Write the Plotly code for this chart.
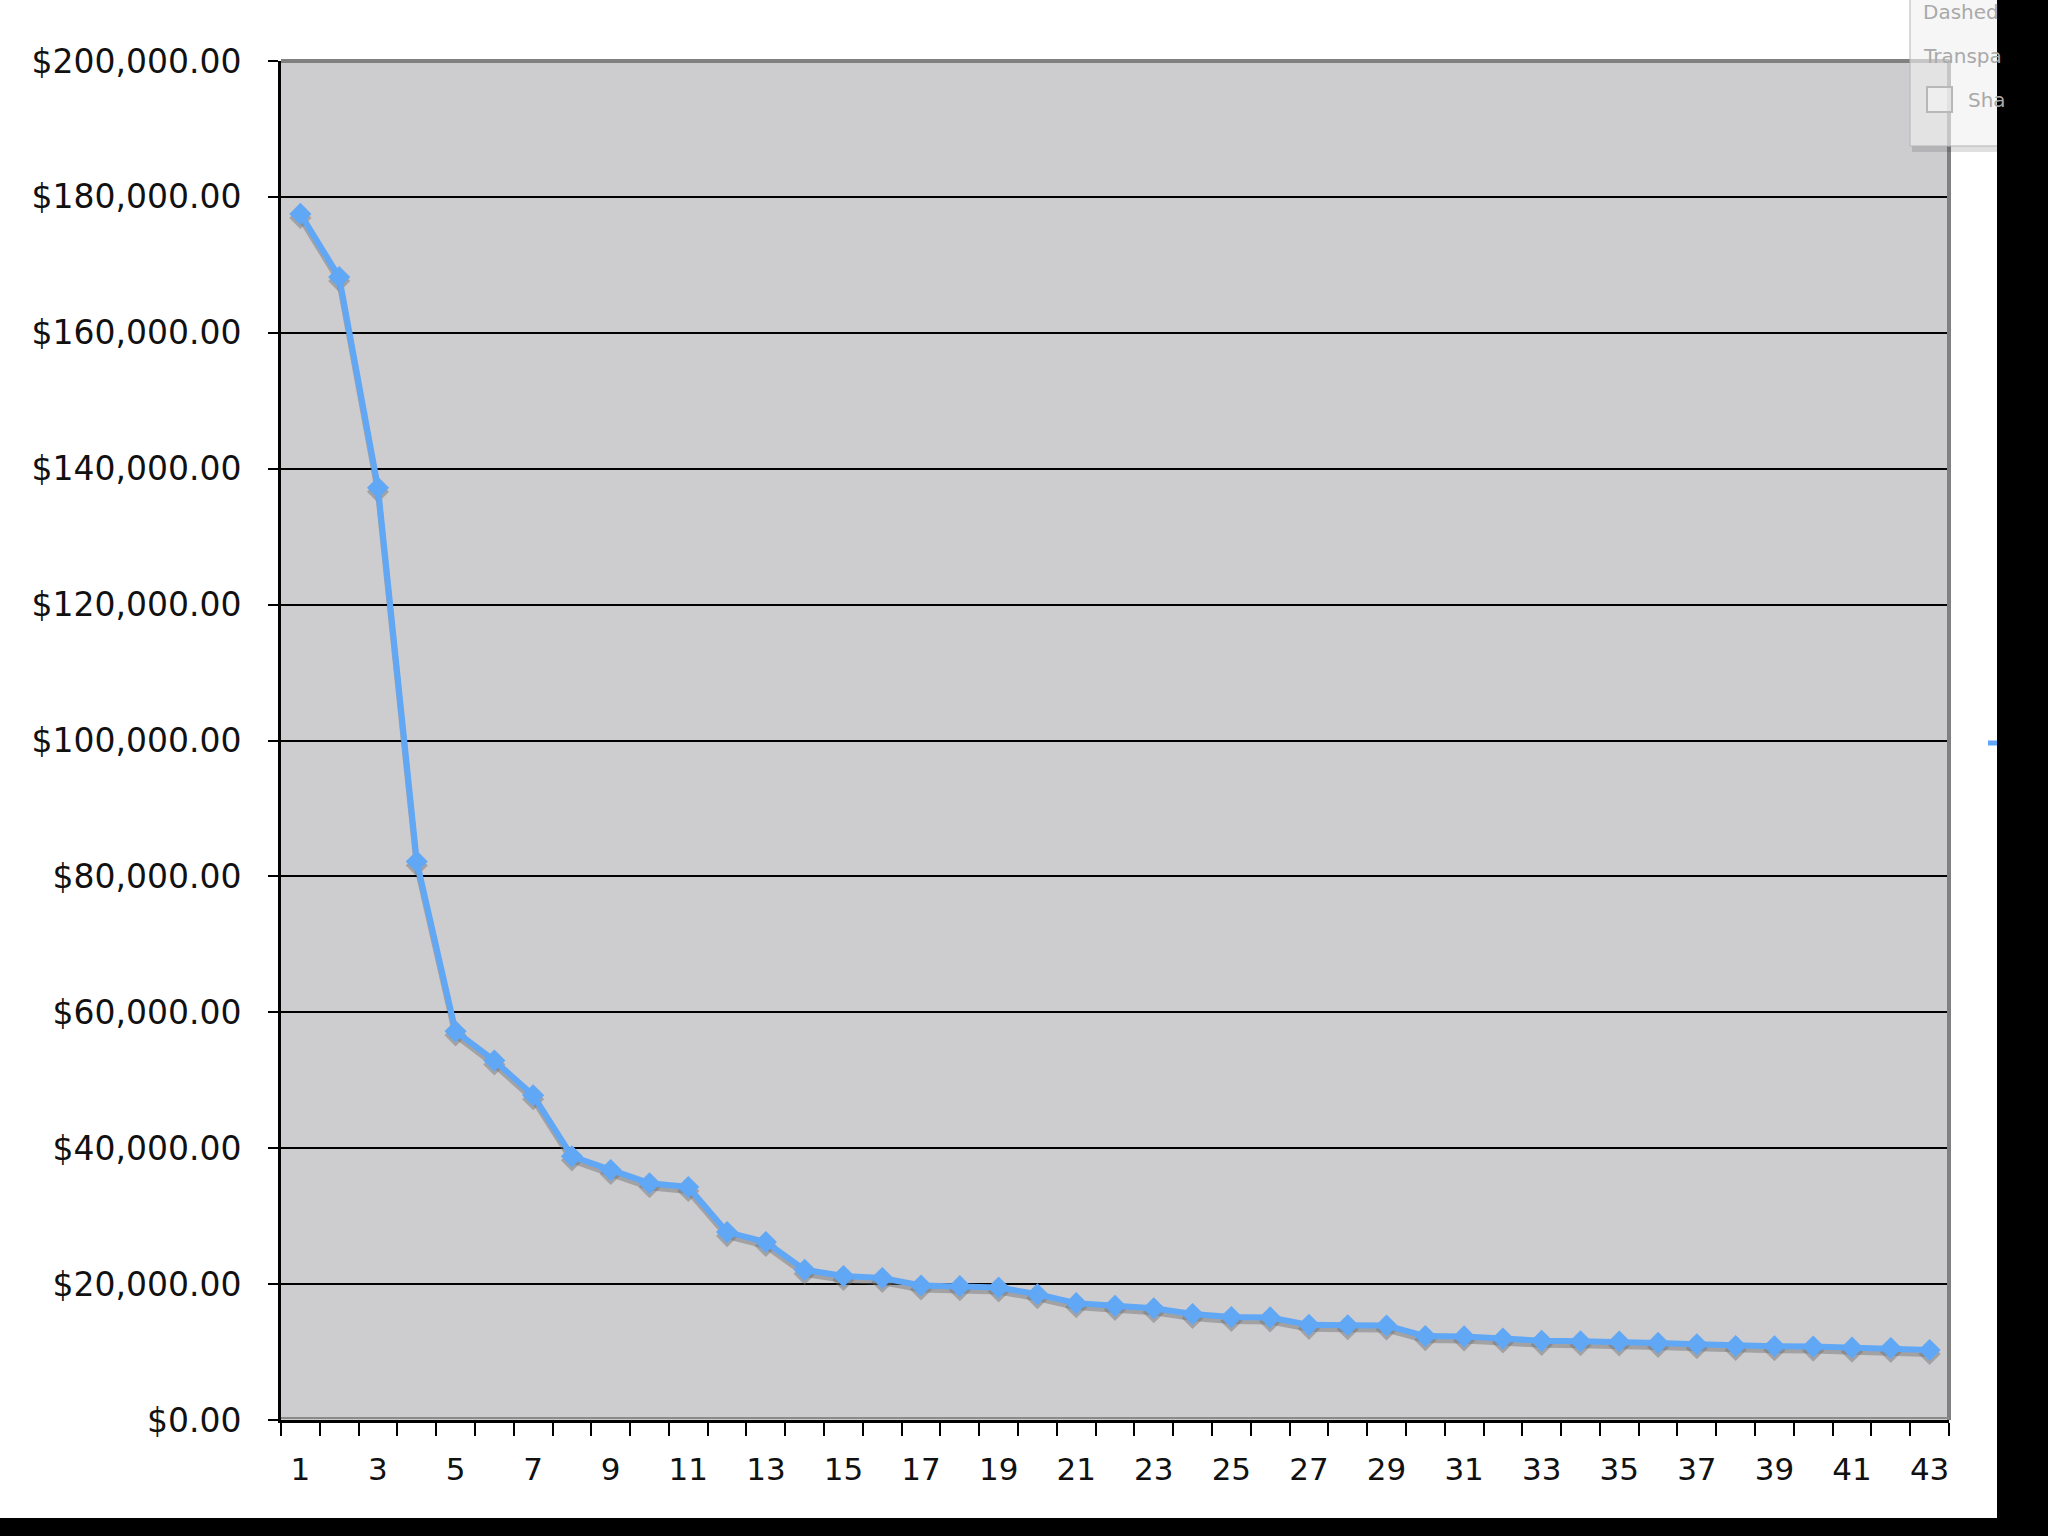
import plotly.graph_objects as go

# ---- data ----
categories = list(range(1, 44))
values = [177500, 168200, 137200, 82200, 57200, 52900, 47800, 38800, 36800, 34850,
          34300, 27650, 26200, 22100, 21200, 20900, 19800, 19700, 19500, 18500,
          17200, 16800, 16450, 15600, 15150, 15100, 14000, 13950, 13900, 12350,
          12300, 12000, 11650, 11600, 11550, 11350, 11150, 10900, 10850, 10800,
          10650, 10600, 10300]
y_tickvals = [0, 20000, 40000, 60000, 80000, 100000, 120000, 140000, 160000, 180000, 200000]
y_ticktext = ["$0.00", "$20,000.00", "$40,000.00", "$60,000.00", "$80,000.00",
              "$100,000.00", "$120,000.00", "$140,000.00", "$160,000.00",
              "$180,000.00", "$200,000.00"]
x_tickvals = list(range(1, 44, 2))
x_ticktext = [str(v) for v in x_tickvals]
panel_labels = ["Dashed", "Transpa", "Sha"]

# ---- geometry (pixels) ----
W, H = 2048, 1536
L, R, T, B = 281, 99, 61, 116
PW, PH = W - L - R, H - T - B


def px(x):
    return (x - L) / PW


def py(y):
    return (H - B - y) / PH


FONT = "DejaVu Sans"
LINE_BLUE = "#60a7f6"
SHADOW = "rgba(110,110,110,0.45)"
shadow_shift = 4 / PH * 200000

fig = go.Figure()
# invisible carrier trace for the main (visible) axes
fig.add_trace(go.Scatter(
    x=categories, y=values, xaxis="x", yaxis="y", mode="lines",
    line=dict(color="rgba(0,0,0,0)", width=0), hoverinfo="skip", showlegend=False))
# shadow
fig.add_trace(go.Scatter(
    x=categories, y=values, xaxis="x", yaxis="y2", mode="lines+markers",
    line=dict(color=SHADOW, width=6),
    marker=dict(symbol="diamond", size=17, color=SHADOW),
    hoverinfo="skip", showlegend=False))
# main series
fig.add_trace(go.Scatter(
    x=categories, y=values, xaxis="x", yaxis="y3", mode="lines+markers",
    line=dict(color=LINE_BLUE, width=6),
    marker=dict(symbol="diamond", size=17, color=LINE_BLUE),
    showlegend=False))

shapes = []
# gray top and right plot borders
shapes.append(dict(type="line", xref="paper", yref="paper", x0=0, x1=1, y0=1, y1=1,
                   line=dict(color="#808080", width=4), layer="above"))
shapes.append(dict(type="line", xref="paper", yref="paper", x0=1, x1=1, y0=0, y1=1,
                   line=dict(color="#808080", width=4), layer="above"))
# gray shadow just above the bottom axis
shapes.append(dict(type="line", xref="paper", yref="paper", x0=0, x1=1, y0=py(1418), y1=py(1418),
                   line=dict(color="#8a8a8a", width=2), layer="above"))
# floating panel (semi transparent) at top right
shapes.append(dict(type="rect", xref="paper", yref="paper", x0=px(1912), x1=px(2000),
                   y0=py(152), y1=py(146), fillcolor="rgba(0,0,0,0.12)", line=dict(width=0),
                   layer="above"))
shapes.append(dict(type="rect", xref="paper", yref="paper", x0=px(1910), x1=px(2000),
                   y0=py(146), y1=py(-5), fillcolor="rgba(240,240,240,0.62)",
                   line=dict(color="#b4b4b4", width=1), layer="above"))
# checkbox
shapes.append(dict(type="rect", xref="paper", yref="paper", x0=px(1927), x1=px(1952),
                   y0=py(112), y1=py(87), fillcolor="rgba(245,245,245,0.6)",
                   line=dict(color="#b8b8b8", width=2), layer="above"))
# legend fragment
shapes.append(dict(type="line", xref="paper", yref="paper", x0=px(1988), x1=px(1998),
                   y0=py(743), y1=py(743), line=dict(color=LINE_BLUE, width=5), layer="above"))
# black borders of the screenshot
shapes.append(dict(type="rect", xref="paper", yref="paper", x0=px(1997), x1=px(2100),
                   y0=py(1600), y1=py(-50), fillcolor="black", line=dict(width=0), layer="above"))
shapes.append(dict(type="rect", xref="paper", yref="paper", x0=px(-50), x1=px(2100),
                   y0=py(1600), y1=py(1518), fillcolor="black", line=dict(width=0), layer="above"))

annotations = []
for label, yy in zip(panel_labels, [12, 56, 100]):
    xx = 1966 if label == "Sha" else 1921
    annotations.append(dict(xref="paper", yref="paper", x=px(xx), y=py(yy), text=label,
                            showarrow=False, xanchor="left", yanchor="middle",
                            font=dict(family=FONT, size=20, color="#a9a9a9")))

fig.update_layout(
    width=W, height=H,
    margin=dict(l=L, r=R, t=T, b=B, pad=0),
    paper_bgcolor="white",
    plot_bgcolor="#cdcccf",
    font=dict(family=FONT, size=31, color="#111111"),
    showlegend=False,
    xaxis=dict(
        range=[0.5, 43.5], tickmode="array", tickvals=x_tickvals, ticktext=x_ticktext,
        ticks="", showgrid=False, zeroline=False,
        showline=True, linecolor="black", linewidth=3,
        ticklabelstandoff=20,
        minor=dict(tickmode="array", tickvals=[i + 0.5 for i in range(0, 44)],
                   ticks="outside", ticklen=13, tickwidth=2, tickcolor="black", showgrid=False),
        tickfont=dict(family=FONT, size=31, color="#111111"),
    ),
    yaxis=dict(
        range=[0, 200000], tickmode="array", tickvals=y_tickvals, ticktext=y_ticktext,
        ticks="outside", ticklen=10, tickwidth=2, tickcolor="black",
        showgrid=True, gridcolor="black", gridwidth=2, zeroline=False,
        showline=True, linecolor="black", linewidth=3,
        ticklabelstandoff=20,
        tickfont=dict(family=FONT, size=33, color="#111111"),
    ),
    yaxis2=dict(range=[shadow_shift, 200000 + shadow_shift], overlaying="y", visible=False),
    yaxis3=dict(range=[0, 200000], overlaying="y", visible=False),
    shapes=shapes,
    annotations=annotations,
)

fig.write_html("out.html", config={"displayModeBar": False},
               post_script="document.body.style.margin='0px';")
